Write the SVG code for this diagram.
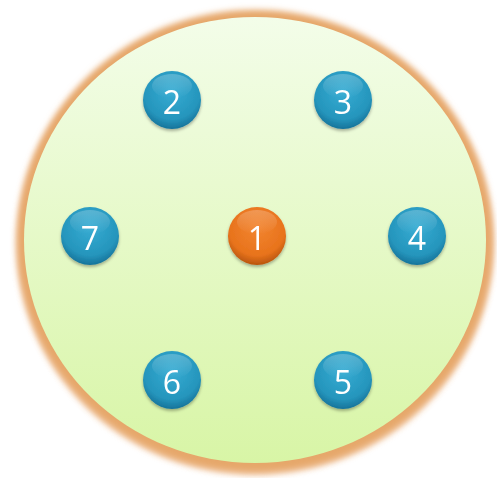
<svg xmlns="http://www.w3.org/2000/svg" width="497" height="478" viewBox="0 0 497 478">
<defs>
<linearGradient id="bg" x1="0" y1="0" x2="0" y2="1">
<stop offset="0" stop-color="#f3fde9"/>
<stop offset="1" stop-color="#d8f5a6"/>
</linearGradient>
<radialGradient id="blue" cx="0.5" cy="0.35" r="0.65">
<stop offset="0" stop-color="#36acd3"/>
<stop offset="0.75" stop-color="#2595bc"/>
<stop offset="1" stop-color="#16739a"/>
</radialGradient>
<radialGradient id="orange" cx="0.5" cy="0.35" r="0.65">
<stop offset="0" stop-color="#f28530"/>
<stop offset="0.75" stop-color="#e8731c"/>
<stop offset="1" stop-color="#b8550e"/>
</radialGradient>
<linearGradient id="gloss" x1="0" y1="0" x2="0" y2="1">
<stop offset="0" stop-color="#ffffff" stop-opacity="0.22"/>
<stop offset="1" stop-color="#ffffff" stop-opacity="0"/>
</linearGradient>
<filter id="blur" x="-10%" y="-10%" width="120%" height="120%">
<feGaussianBlur stdDeviation="3"/>
</filter>
<filter id="sh" x="-30%" y="-30%" width="160%" height="160%">
<feDropShadow dx="0" dy="2" stdDeviation="1.5" flood-color="#000" flood-opacity="0.3"/>
</filter>
</defs>
<style>
.lbl{font-family:"Open Sans","Liberation Sans",sans-serif;font-size:32px;fill:#ffffff;text-anchor:middle;dominant-baseline:central}
</style>
<g id="container">
<ellipse cx="255" cy="245" rx="238" ry="230" fill="#e9a66a" opacity="0.6" filter="url(#blur)"/>
<ellipse cx="255" cy="241" rx="238" ry="231" fill="#e6a76b" filter="url(#blur)"/>
<ellipse cx="255" cy="240" rx="231" ry="223" fill="url(#bg)"/>
</g>
<g id="connectors"></g>
<g id="n1" filter="url(#sh)"><circle cx="257" cy="236" r="29" fill="url(#orange)"/><ellipse cx="257" cy="222" rx="20" ry="12" fill="url(#gloss)"/><text class="lbl" x="257" y="237">1</text></g>
<g id="n2" filter="url(#sh)"><circle cx="172" cy="100" r="29" fill="url(#blue)"/><ellipse cx="172" cy="86" rx="20" ry="12" fill="url(#gloss)"/><text class="lbl" x="172" y="101">2</text></g>
<g id="n3" filter="url(#sh)"><circle cx="343" cy="100" r="29" fill="url(#blue)"/><ellipse cx="343" cy="86" rx="20" ry="12" fill="url(#gloss)"/><text class="lbl" x="343" y="101">3</text></g>
<g id="n4" filter="url(#sh)"><circle cx="417" cy="236" r="29" fill="url(#blue)"/><ellipse cx="417" cy="222" rx="20" ry="12" fill="url(#gloss)"/><text class="lbl" x="417" y="237">4</text></g>
<g id="n5" filter="url(#sh)"><circle cx="343" cy="380" r="29" fill="url(#blue)"/><ellipse cx="343" cy="366" rx="20" ry="12" fill="url(#gloss)"/><text class="lbl" x="343" y="381">5</text></g>
<g id="n6" filter="url(#sh)"><circle cx="172" cy="380" r="29" fill="url(#blue)"/><ellipse cx="172" cy="366" rx="20" ry="12" fill="url(#gloss)"/><text class="lbl" x="172" y="381">6</text></g>
<g id="n7" filter="url(#sh)"><circle cx="90" cy="236" r="29" fill="url(#blue)"/><ellipse cx="90" cy="222" rx="20" ry="12" fill="url(#gloss)"/><text class="lbl" x="90" y="237">7</text></g>
</svg>
